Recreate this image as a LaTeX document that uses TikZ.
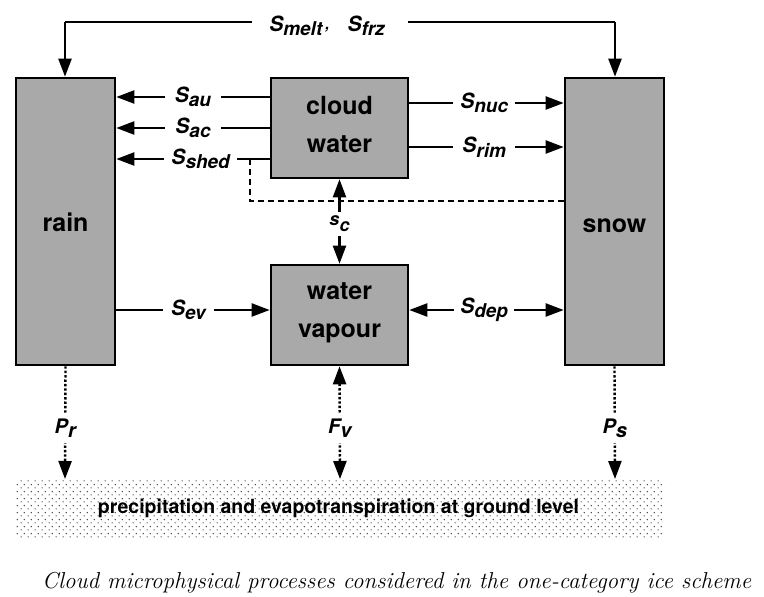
\documentclass[tikz,border=0pt]{standalone}
\usepackage{fontspec}
\newfontfamily\hv{TeX Gyre Heros}
\usetikzlibrary{arrows.meta,patterns}
\definecolor{boxgray}{RGB}{169,169,169}
\pgfdeclarepatternformonly{grounddots}{\pgfpointorigin}{\pgfpoint{6.6pt}{6.6pt}}{\pgfpoint{6.6pt}{6.6pt}}{%
  \pgfpathcircle{\pgfpoint{1.2pt}{1.2pt}}{0.75pt}%
  \pgfpathcircle{\pgfpoint{4.5pt}{4.5pt}}{0.75pt}%
  \pgfusepath{fill}}
\newcommand{\Sx}[1]{S\raisebox{-4.5pt}{\fontsize{19}{19}\selectfont #1}}
\tikzset{
  box/.style={draw=black, line width=2.6pt, fill=boxgray, inner sep=0pt},
  boxtext/.style={font=\hv\bfseries\fontsize{25}{38}\selectfont, align=center},
  tip/.style={},
  flow/.style={line width=2.2pt, -{Triangle[length=18pt,width=13pt]}},
  flowboth/.style={line width=2.2pt, {Triangle[length=18pt,width=13pt]}-{Triangle[length=18pt,width=13pt]}},
  dotflow/.style={line width=2.4pt, dash pattern=on 2.4pt off 2pt, -{Triangle[length=18pt,width=13pt]}},
  dotboth/.style={line width=2.4pt, dash pattern=on 2.4pt off 2pt, {Triangle[length=18pt,width=13pt]}-{Triangle[length=18pt,width=13pt]}},
  lab/.style={font=\hv\bfseries\itshape\fontsize{21}{21}\selectfont, fill=white, inner ysep=1pt},
  plab/.style={font=\hv\bfseries\itshape\fontsize{20}{20}\selectfont, fill=white, inner xsep=1pt, inner ysep=5pt},
}
\begin{document}
\begin{tikzpicture}[x=1pt,y=-1pt]
\useasboundingbox (0,0) rectangle (764,597);
% boxes
\node[box, minimum width=99pt, minimum height=287pt] (rainb) at (65.5,221.5) {};
\node[box, minimum width=99pt, minimum height=287pt] (snowb) at (614.5,221.5) {};
\node[box, minimum width=137pt, minimum height=100pt] (cloudb) at (339.5,128) {};
\node[box, minimum width=137pt, minimum height=100pt] (vapb) at (339.5,315) {};
\node[boxtext] (rain) at (65.5,222.5) {rain};
\node[boxtext] (snow) at (614.5,225.5) {snow};
\node[boxtext] (cloud) at (339.5,124.5) {cloud\\water};
\node[boxtext] (vap) at (339.5,312.5) {water\\vapour};
% ground band
\fill[pattern=grounddots, pattern color=black!75] (16,479) rectangle (664,539);
\node[font=\hv\bfseries\fontsize{19.5}{19.5}\selectfont, anchor=base, inner sep=0pt] (ground) at (338.5,513) {precipitation and evapotranspiration at ground level};
\coordinate (gr) at (65,479);
\coordinate (gv) at (340,479);
\coordinate (gs) at (615,479);
% top melt/freeze
\coordinate (tl) at (65,22);
\coordinate (tr) at (615,22);
\coordinate (tlg) at (252,22);
\coordinate (trg) at (408,22);
\draw[line width=2.2pt] (tlg) -- (tl);
\draw[flow] (tl) -- (rainb.north -| tl);
\draw[line width=2.2pt] (trg) -- (tr);
\draw[flow] (tr) -- (snowb.north -| tr);
\node[font=\hv\bfseries\itshape\fontsize{21}{21}\selectfont, anchor=base] (melt) at (327,31) {\Sx{melt}\hspace{3pt}\raisebox{2pt}{\fontsize{15}{15}\selectfont ,}\hspace{18pt}\Sx{frz}};
% cloud -> rain
\draw[flow] (cloudb.west |- 0,97) -- (rainb.east |- 0,97) node[lab, pos=0.5, inner xsep=10pt] (sau) {\Sx{au}};
\draw[flow] (cloudb.west |- 0,128) -- (rainb.east |- 0,128) node[lab, pos=0.5, inner xsep=10pt] (sac) {\Sx{ac}};
% dashed shed path
\coordinate (d1) at (250,159);
\coordinate (d2) at (250,201);
\draw[line width=2.2pt, dash pattern=on 6pt off 4pt] (d1) -- (d2) -- (snowb.west |- d2);
\draw[flow] (cloudb.west |- 0,159) -- (rainb.east |- 0,159) node[lab, pos=0.45, inner xsep=7pt] (sshed) {\Sx{shed}};
% cloud -> snow
\draw[flow] (cloudb.east |- 0,103) -- (snowb.west |- 0,103) node[lab, pos=0.485, inner xsep=7pt] (snuc) {\Sx{nuc}};
\draw[flow] (cloudb.east |- 0,147) -- (snowb.west |- 0,147) node[lab, pos=0.485, inner xsep=9pt] (srim) {\Sx{rim}};
% condensation
\draw[flowboth] (cloudb.south) -- (vapb.north) node[pos=0.53, fill=white, inner xsep=3pt, inner ysep=4pt, font=\hv\bfseries\itshape\fontsize{18}{18}\selectfont] (sc) {s\raisebox{-6pt}{c}};
% evaporation
\draw[flow] (rainb.east |- 0,310) -- (vapb.west |- 0,310) node[lab, pos=0.47, inner xsep=8pt] (sev) {\Sx{ev}};
\draw[flowboth] (vapb.east |- 0,310) -- (snowb.west |- 0,310) node[lab, pos=0.485, inner xsep=6pt] (sdep) {\Sx{dep}};
% precipitation fluxes
\draw[dotflow] (rainb.south) -- (gr) node[plab, pos=0.55] (pr) {P\raisebox{-4pt}{r}};
\draw[dotboth] (vapb.south) -- (gv) node[plab, pos=0.55] (fv) {F\raisebox{-4pt}{v}};
\draw[dotflow] (snowb.south) -- (gs) node[plab, pos=0.55] (ps) {P\raisebox{-4pt}{s}};
% caption
\node[font=\itshape\fontsize{23}{23}\selectfont, anchor=base west, inner sep=0pt] (cap) at (42,588.5) {Cloud microphysical processes considered in the one-category ice scheme};
\end{tikzpicture}
\end{document}
